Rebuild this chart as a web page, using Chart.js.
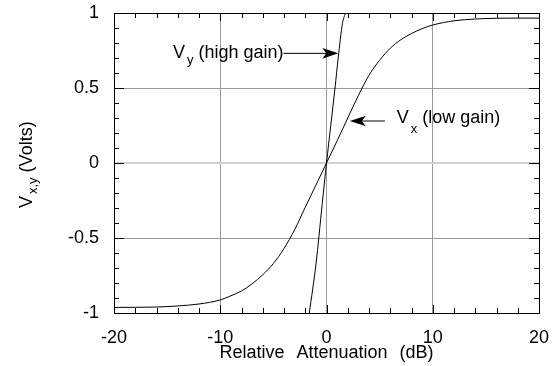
<!DOCTYPE html>
<html lang="en">
<head>
    <meta charset="UTF-8">
    <title>Vx / Vy vs Relative Attenuation</title>
    <style>
        html, body { margin: 0; padding: 0; background: #fff; }
        #wrap { width: 552px; height: 366px; }
    </style>
</head>
<body>

<div id="wrap">
    <canvas id="myChart" width="552" height="366" role="img" aria-label="Vx and Vy versus relative attenuation"></canvas>
</div>

<script src="https://cdn.jsdelivr.net/npm/chart.js@4/dist/chart.umd.min.js"></script>

<script>
    // values
    var vxDb    = [-20, -18, -16, -14, -12, -10, -9, -8, -7, -6, -5, -4, -3, -2, -1, 0,
                   1, 2, 3, 4, 5, 6, 7, 8, 9, 10, 12, 14, 16, 18, 20];
    var vxVolts = [-0.963, -0.962, -0.960, -0.953, -0.940, -0.913, -0.885, -0.853, -0.805, -0.745, -0.67, -0.57, -0.445, -0.295, -0.148, 0,
                   0.148, 0.30, 0.45, 0.585, 0.685, 0.765, 0.822, 0.863, 0.896, 0.92, 0.948, 0.960, 0.965, 0.966, 0.966];

    var vyDb    = [-1.62, -1.0, -0.4, 0, 0.4, 0.8, 1.1, 1.5, 1.78];
    var vyVolts = [-1.0, -0.68, -0.27, 0, 0.25, 0.5, 0.7, 0.93, 1.0];

    var xTickLabels = [-20, -10, 0, 10, 20];
    var yTickLabels = [-1, -0.5, 0, 0.5, 1];

    var FONT = '"Liberation Sans", Arial, Helvetica, sans-serif';
    Chart.defaults.font.family = FONT;
    Chart.defaults.color = '#000';

    function toPoints(xs, ys) {
        return xs.map(function (x, i) { return { x: x, y: ys[i] }; });
    }

    function isLabelX(v) { return xTickLabels.indexOf(Math.round(v)) >= 0; }
    function isLabelY(v) { return Math.round(v * 10) % 5 === 0 && yTickLabels.indexOf(Math.round(v * 10) / 10) >= 0; }

    // little barbed arrow, head at (x1, y1)
    function arrow(ctx, x0, y0, x1, y1) {
        var a = Math.atan2(y1 - y0, x1 - x0), c = Math.cos(a), s = Math.sin(a);
        var L = 16, W = 5.3, N = 12;
        ctx.beginPath();
        ctx.moveTo(x0, y0);
        ctx.lineTo(x1 - N * c, y1 - N * s);
        ctx.stroke();
        ctx.beginPath();
        ctx.moveTo(x1, y1);
        ctx.lineTo(x1 - L * c + W * s, y1 - L * s - W * c);
        ctx.lineTo(x1 - N * c, y1 - N * s);
        ctx.lineTo(x1 - L * c - W * s, y1 - L * s + W * c);
        ctx.closePath();
        ctx.fill();
    }

    // "V" + subscript + rest, returns end x
    function subText(ctx, x, y, main, sub, rest, subDy) {
        ctx.font = '18px ' + FONT;
        ctx.fillText(main, x, y);
        var cx = x + ctx.measureText(main).width + 2;
        ctx.font = '13px ' + FONT;
        ctx.fillText(sub, cx, y + subDy);
        cx += ctx.measureText(sub).width;
        ctx.font = '18px ' + FONT;
        ctx.fillText(' ' + rest, cx, y);
        return cx + ctx.measureText(' ' + rest).width;
    }

    var frameAndNotes = {
        id: 'frameAndNotes',
        afterDatasetsDraw: function (chart) {
            var ctx = chart.ctx, a = chart.chartArea;
            var xs = chart.scales.x, ys = chart.scales.y;
            ctx.save();
            ctx.strokeStyle = '#000';
            ctx.fillStyle = '#000';
            ctx.lineWidth = 1;

            // inward tick marks on all four sides
            ctx.beginPath();
            for (var v = -20; v <= 20; v += 2) {
                var px = Math.round(xs.getPixelForValue(v)) + 0.5;
                var len = (v % 10 === 0) ? 8 : 5;
                ctx.moveTo(px, a.bottom); ctx.lineTo(px, a.bottom - len);
                ctx.moveTo(px, a.top); ctx.lineTo(px, a.top + len);
            }
            for (var k = -10; k <= 10; k++) {
                var py = Math.round(ys.getPixelForValue(k / 10)) + 0.5;
                var ln = (k % 5 === 0) ? 10 : 5;
                ctx.moveTo(a.left, py); ctx.lineTo(a.left + ln, py);
                ctx.moveTo(a.right, py); ctx.lineTo(a.right - ln, py);
            }
            ctx.stroke();

            // frame
            ctx.strokeRect(Math.round(a.left) + 0.5, Math.round(a.top) + 0.5,
                Math.round(a.right - a.left), Math.round(a.bottom - a.top));

            // annotations
            ctx.textBaseline = 'alphabetic';
            ctx.textAlign = 'left';
            try { ctx.wordSpacing = '3px'; } catch (e) {}

            var endY = subText(ctx, xs.getPixelForValue(-14.45), ys.getPixelForValue(0.698), 'V', 'y', '(high gain)', 6);
            arrow(ctx, endY, ys.getPixelForValue(0.731), xs.getPixelForValue(1.11), ys.getPixelForValue(0.731));

            try { ctx.wordSpacing = '4px'; } catch (e) {}
            subText(ctx, xs.getPixelForValue(6.6), ys.getPixelForValue(0.269), 'V', 'x', '(low gain)', 10);
            arrow(ctx, xs.getPixelForValue(5.5), ys.getPixelForValue(0.28), xs.getPixelForValue(2.2), ys.getPixelForValue(0.28));

            // x title
            try { ctx.wordSpacing = '7px'; } catch (e) {}
            ctx.font = '18px ' + FONT;
            ctx.textAlign = 'center';
            ctx.fillText('Relative Attenuation (dB)', (a.left + a.right) / 2, 357.5);

            // y title, rotated
            try { ctx.wordSpacing = '3px'; } catch (e) {}
            ctx.textAlign = 'left';
            ctx.translate(32, 208);
            ctx.rotate(-Math.PI / 2);
            subText(ctx, 0, 0, 'V', 'x,y', '(Volts)', 5);
            ctx.restore();
        }
    };

    var ctx = document.getElementById('myChart').getContext('2d');
    var chart = new Chart(ctx, {
        type: 'line',
        data: {
            datasets: [
                {
                    label: 'Vx (low gain)',
                    data: toPoints(vxDb, vxVolts),
                    borderColor: '#000',
                    borderWidth: 1,
                    pointRadius: 0,
                    cubicInterpolationMode: 'monotone',
                    fill: false
                },
                {
                    label: 'Vy (high gain)',
                    data: toPoints(vyDb, vyVolts),
                    borderColor: '#000',
                    borderWidth: 1,
                    pointRadius: 0,
                    cubicInterpolationMode: 'monotone',
                    fill: false
                }
            ]
        },
        options: {
            responsive: false,
            animation: false,
            layout: { padding: { top: 13, right: 13, left: 0, bottom: 0 } },
            plugins: {
                legend: { display: false },
                tooltip: { enabled: false }
            },
            scales: {
                x: {
                    type: 'linear',
                    min: -20,
                    max: 20,
                    afterFit: function (s) {
                        s.height = 53;
                        s.paddingLeft = 0;
                        s.paddingRight = 0;
                    },
                    border: { display: false },
                    grid: {
                        drawTicks: false,
                        color: function (c) {
                            var v = c.tick ? c.tick.value : 0;
                            return (Math.round(v) % 10 === 0 && Math.abs(v) < 20) ? '#999' : 'rgba(0,0,0,0)';
                        }
                    },
                    ticks: {
                        stepSize: 2,
                        autoSkip: false,
                        maxRotation: 0,
                        padding: 14,
                        font: { size: 18 },
                        callback: function (v) { return isLabelX(v) ? String(Math.round(v)) : ''; }
                    }
                },
                y: {
                    min: -1,
                    max: 1,
                    afterFit: function (s) {
                        s.width = 114;
                        s.paddingTop = 0;
                        s.paddingBottom = 0;
                    },
                    border: { display: false },
                    grid: {
                        drawTicks: false,
                        color: function (c) {
                            var k = c.tick ? Math.round(c.tick.value * 10) : 10;
                            if (k === 0) return '#d0d0d0';
                            return (Math.abs(k) === 5) ? '#999' : 'rgba(0,0,0,0)';
                        },
                        lineWidth: function (c) {
                            var k = c.tick ? Math.round(c.tick.value * 10) : 10;
                            return k === 0 ? 2 : 1;
                        }
                    },
                    ticks: {
                        stepSize: 0.1,
                        autoSkip: false,
                        padding: 15,
                        font: { size: 18 },
                        callback: function (v) { return isLabelY(v) ? String(Math.round(v * 10) / 10) : ''; }
                    }
                }
            }
        },
        plugins: [frameAndNotes]
    });
</script>

</body>
</html>
